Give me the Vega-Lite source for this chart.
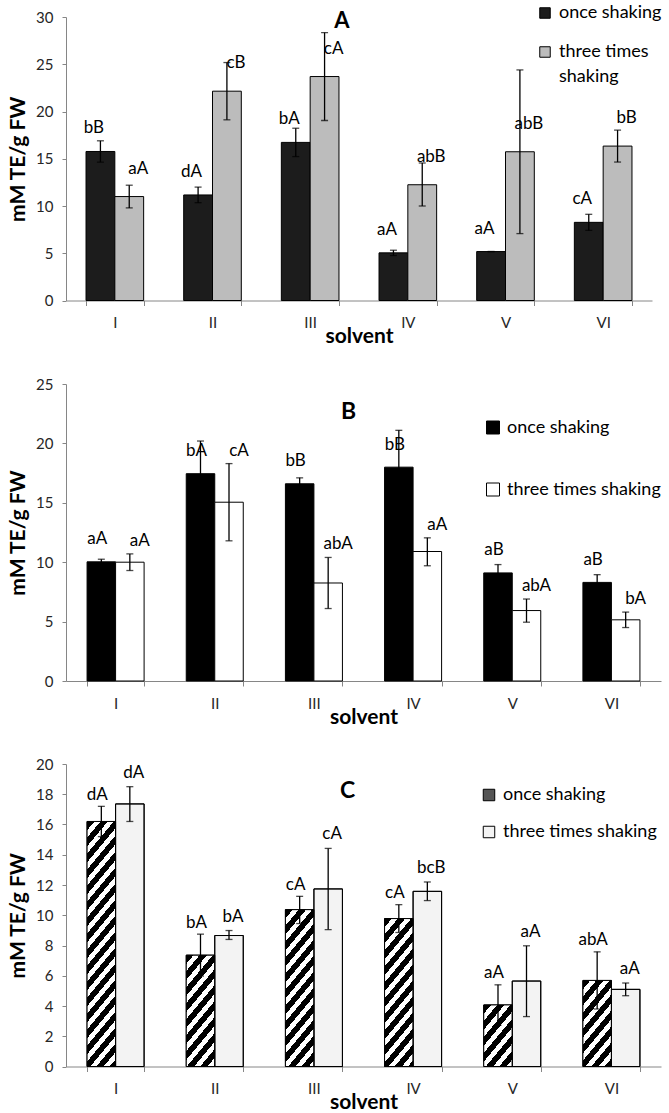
{
  "$schema": "https://vega.github.io/schema/vega-lite/v6.json",
  "autosize": {"type": "pad"},
  "padding": {"left": 7, "top": 4, "right": 0, "bottom": 0},
  "background": "#ffffff",
  "bounds": "flush",
  "spacing": 83,
  "datasets": {
    "bars": [
      {"panel": "A", "solvent": "I", "treatment": "once shaking", "value": 15.77, "lo": 14.64, "hi": 16.9, "label": "bB"},
      {"panel": "A", "solvent": "I", "treatment": "three times shaking", "value": 11.0, "lo": 9.8, "hi": 12.2, "label": "aA"},
      {"panel": "A", "solvent": "II", "treatment": "once shaking", "value": 11.17, "lo": 10.35, "hi": 12.0, "label": "dA"},
      {"panel": "A", "solvent": "II", "treatment": "three times shaking", "value": 22.15, "lo": 19.12, "hi": 25.18, "label": "cB"},
      {"panel": "A", "solvent": "III", "treatment": "once shaking", "value": 16.73, "lo": 15.23, "hi": 18.23, "label": "bA"},
      {"panel": "A", "solvent": "III", "treatment": "three times shaking", "value": 23.7, "lo": 19.05, "hi": 28.35, "label": "cA"},
      {"panel": "A", "solvent": "IV", "treatment": "once shaking", "value": 5.04, "lo": 4.76, "hi": 5.32, "label": "aA"},
      {"panel": "A", "solvent": "IV", "treatment": "three times shaking", "value": 12.25, "lo": 10.0, "hi": 14.55, "label": "abB"},
      {"panel": "A", "solvent": "V", "treatment": "once shaking", "value": 5.18, "lo": 5.18, "hi": 5.18, "label": "aA"},
      {"panel": "A", "solvent": "V", "treatment": "three times shaking", "value": 15.74, "lo": 7.08, "hi": 24.4, "label": "abB"},
      {"panel": "A", "solvent": "VI", "treatment": "once shaking", "value": 8.27, "lo": 7.42, "hi": 9.12, "label": "cA"},
      {"panel": "A", "solvent": "VI", "treatment": "three times shaking", "value": 16.34, "lo": 14.65, "hi": 18.03, "label": "bB"},
      {"panel": "B", "solvent": "I", "treatment": "once shaking", "value": 10.03, "lo": 9.8, "hi": 10.25, "label": "aA"},
      {"panel": "B", "solvent": "I", "treatment": "three times shaking", "value": 10.0, "lo": 9.3, "hi": 10.7, "label": "aA"},
      {"panel": "B", "solvent": "II", "treatment": "once shaking", "value": 17.45, "lo": 14.7, "hi": 20.2, "label": "bA"},
      {"panel": "B", "solvent": "II", "treatment": "three times shaking", "value": 15.05, "lo": 11.8, "hi": 18.3, "label": "cA"},
      {"panel": "B", "solvent": "III", "treatment": "once shaking", "value": 16.6, "lo": 16.1, "hi": 17.1, "label": "bB"},
      {"panel": "B", "solvent": "III", "treatment": "three times shaking", "value": 8.25, "lo": 6.1, "hi": 10.4, "label": "abA"},
      {"panel": "B", "solvent": "IV", "treatment": "once shaking", "value": 18.0, "lo": 14.85, "hi": 21.1, "label": "bB"},
      {"panel": "B", "solvent": "IV", "treatment": "three times shaking", "value": 10.9, "lo": 9.7, "hi": 12.05, "label": "aA"},
      {"panel": "B", "solvent": "V", "treatment": "once shaking", "value": 9.1, "lo": 8.4, "hi": 9.8, "label": "aB"},
      {"panel": "B", "solvent": "V", "treatment": "three times shaking", "value": 5.93, "lo": 4.95, "hi": 6.9, "label": "abA"},
      {"panel": "B", "solvent": "VI", "treatment": "once shaking", "value": 8.3, "lo": 7.65, "hi": 8.95, "label": "aB"},
      {"panel": "B", "solvent": "VI", "treatment": "three times shaking", "value": 5.15, "lo": 4.5, "hi": 5.8, "label": "bA"},
      {"panel": "C", "solvent": "I", "treatment": "once shaking", "value": 16.2, "lo": 15.2, "hi": 17.2, "label": "dA"},
      {"panel": "C", "solvent": "I", "treatment": "three times shaking", "value": 17.36, "lo": 16.2, "hi": 18.5, "label": "dA"},
      {"panel": "C", "solvent": "II", "treatment": "once shaking", "value": 7.36, "lo": 5.98, "hi": 8.75, "label": "bA"},
      {"panel": "C", "solvent": "II", "treatment": "three times shaking", "value": 8.66, "lo": 8.4, "hi": 8.99, "label": "bA"},
      {"panel": "C", "solvent": "III", "treatment": "once shaking", "value": 10.37, "lo": 9.45, "hi": 11.25, "label": "cA"},
      {"panel": "C", "solvent": "III", "treatment": "three times shaking", "value": 11.74, "lo": 9.05, "hi": 14.42, "label": "cA"},
      {"panel": "C", "solvent": "IV", "treatment": "once shaking", "value": 9.78, "lo": 8.86, "hi": 10.7, "label": "cA"},
      {"panel": "C", "solvent": "IV", "treatment": "three times shaking", "value": 11.58, "lo": 10.97, "hi": 12.2, "label": "bcB"},
      {"panel": "C", "solvent": "V", "treatment": "once shaking", "value": 4.07, "lo": 2.73, "hi": 5.4, "label": "aA"},
      {"panel": "C", "solvent": "V", "treatment": "three times shaking", "value": 5.65, "lo": 3.3, "hi": 7.98, "label": "aA"},
      {"panel": "C", "solvent": "VI", "treatment": "once shaking", "value": 5.69, "lo": 3.8, "hi": 7.58, "label": "abA"},
      {"panel": "C", "solvent": "VI", "treatment": "three times shaking", "value": 5.1, "lo": 4.68, "hi": 5.52, "label": "aA"}
    ]
  },
  "resolve": {"scale": {"x": "independent", "y": "independent", "fill": "independent", "xOffset": "independent"}, "legend": {"fill": "independent"}},
  "vconcat": [
    {
      "data": {"name": "bars"},
      "transform": [{"filter": "datum.panel == 'A'"}],
      "width": 586,
      "height": 283.5,
      "title": {"text": "A", "fontSize": 22, "font": "Lato", "fontWeight": "bold", "anchor": "middle", "frame": "group", "offset": 0, "dx": -17, "dy": 45.7, "baseline": "alphabetic", "color": "#000"},
      "encoding": {
        "x": {"field": "solvent", "type": "nominal", "sort": ["I", "II", "III", "IV", "V", "VI"], "scale": {"paddingInner": 0.41, "paddingOuter": 0.205}, "title": "solvent"},
        "xOffset": {"field": "treatment", "type": "nominal", "sort": ["once shaking", "three times shaking"]}
      },
      "layer": [
        {
          "mark": {"type": "bar", "stroke": "#000", "strokeWidth": 1},
          "encoding": {
            "y": {"field": "value", "type": "quantitative", "scale": {"domain": [0, 30], "nice": false}, "axis": {"values": [0, 5, 10, 15, 20, 25, 30], "labelOverlap": false}, "title": "mM TE/g FW"},
            "fill": {"field": "treatment", "type": "nominal", "scale": {"domain": ["once shaking", "three times shaking"], "range": ["#1c1c1c", "#bcbcbc"]}, "legend": {"legendX": 470, "legendY": -13, "rowPadding": 21, "symbolSize": 110, "labelExpr": "datum.label == 'three times shaking' ? ['three times', 'shaking'] : datum.label", "encode": {"labels": {"update": {"lineHeight": {"value": 25}}}}}}
          }
        },
        {"mark": {"type": "rule", "color": "#000", "strokeWidth": 1.3}, "encoding": {"y": {"field": "lo", "type": "quantitative", "axis": {"values": [0, 5, 10, 15, 20, 25, 30], "labelOverlap": false}, "title": "mM TE/g FW"}, "y2": {"field": "hi"}}},
        {"mark": {"type": "tick", "color": "#000", "thickness": 1.3, "size": 7}, "encoding": {"y": {"field": "hi", "type": "quantitative", "axis": {"values": [0, 5, 10, 15, 20, 25, 30], "labelOverlap": false}, "title": "mM TE/g FW"}}},
        {"mark": {"type": "tick", "color": "#000", "thickness": 1.3, "size": 7}, "encoding": {"y": {"field": "lo", "type": "quantitative", "axis": {"values": [0, 5, 10, 15, 20, 25, 30], "labelOverlap": false}, "title": "mM TE/g FW"}}},
        {"transform": [{"filter": "datum.treatment == 'once shaking'"}], "mark": {"type": "text", "dx": -6.5, "dy": -23, "baseline": "middle", "fontSize": 17, "font": "Lato", "color": "#000"}, "encoding": {"y": {"field": "value", "type": "quantitative", "axis": {"values": [0, 5, 10, 15, 20, 25, 30], "labelOverlap": false}, "title": "mM TE/g FW"}, "text": {"field": "label"}}},
        {"transform": [{"filter": "datum.treatment == 'three times shaking'"}], "mark": {"type": "text", "dx": 9, "dy": -28, "baseline": "middle", "fontSize": 17, "font": "Lato", "color": "#000"}, "encoding": {"y": {"field": "value", "type": "quantitative", "axis": {"values": [0, 5, 10, 15, 20, 25, 30], "labelOverlap": false}, "title": "mM TE/g FW"}, "text": {"field": "label"}}}
      ]
    },
    {
      "data": {"name": "bars"},
      "transform": [{"filter": "datum.panel == 'B'"}],
      "width": 595,
      "height": 297,
      "title": {"text": "B", "fontSize": 23, "font": "Lato", "fontWeight": "bold", "anchor": "middle", "frame": "group", "offset": 0, "dx": -15, "dy": 64.8, "baseline": "alphabetic", "color": "#000"},
      "encoding": {
        "x": {"field": "solvent", "type": "nominal", "sort": ["I", "II", "III", "IV", "V", "VI"], "scale": {"paddingInner": 0.425, "paddingOuter": 0.2125}, "title": "solvent"},
        "xOffset": {"field": "treatment", "type": "nominal", "sort": ["once shaking", "three times shaking"]}
      },
      "layer": [
        {
          "mark": {"type": "bar", "stroke": "#000", "strokeWidth": 1},
          "encoding": {
            "y": {"field": "value", "type": "quantitative", "scale": {"domain": [0, 25], "nice": false}, "axis": {"values": [0, 5, 10, 15, 20, 25], "labelOverlap": false}, "title": "mM TE/g FW"},
            "fill": {"field": "treatment", "type": "nominal", "scale": {"domain": ["once shaking", "three times shaking"], "range": ["#000000", "#ffffff"]}, "legend": {"legendX": 418, "legendY": 34.5, "rowPadding": 44, "symbolSize": 169}}
          }
        },
        {"mark": {"type": "rule", "color": "#000", "strokeWidth": 1.3}, "encoding": {"y": {"field": "lo", "type": "quantitative", "axis": {"values": [0, 5, 10, 15, 20, 25], "labelOverlap": false}, "title": "mM TE/g FW"}, "y2": {"field": "hi"}}},
        {"mark": {"type": "tick", "color": "#000", "thickness": 1.3, "size": 7}, "encoding": {"y": {"field": "hi", "type": "quantitative", "axis": {"values": [0, 5, 10, 15, 20, 25], "labelOverlap": false}, "title": "mM TE/g FW"}}},
        {"mark": {"type": "tick", "color": "#000", "thickness": 1.3, "size": 7}, "encoding": {"y": {"field": "lo", "type": "quantitative", "axis": {"values": [0, 5, 10, 15, 20, 25], "labelOverlap": false}, "title": "mM TE/g FW"}}},
        {"transform": [{"filter": "datum.treatment == 'once shaking'"}], "mark": {"type": "text", "dx": -4, "dy": -22.5, "baseline": "middle", "fontSize": 17, "font": "Lato", "color": "#000"}, "encoding": {"y": {"field": "value", "type": "quantitative", "axis": {"values": [0, 5, 10, 15, 20, 25], "labelOverlap": false}, "title": "mM TE/g FW"}, "text": {"field": "label"}}},
        {"transform": [{"filter": "datum.treatment == 'three times shaking'"}], "mark": {"type": "text", "dx": 10, "dy": -13, "baseline": "middle", "fontSize": 17, "font": "Lato", "color": "#000"}, "encoding": {"y": {"field": "hi", "type": "quantitative", "axis": {"values": [0, 5, 10, 15, 20, 25], "labelOverlap": false}, "title": "mM TE/g FW"}, "text": {"field": "label"}}}
      ]
    },
    {
      "data": {"name": "bars"},
      "transform": [{"filter": "datum.panel == 'C'"}],
      "width": 595,
      "height": 302.5,
      "title": {"text": "C", "fontSize": 23, "font": "Lato", "fontWeight": "bold", "anchor": "middle", "frame": "group", "offset": 0, "dx": -16, "dy": 63.7, "baseline": "alphabetic", "color": "#000"},
      "encoding": {
        "x": {"field": "solvent", "type": "nominal", "sort": ["I", "II", "III", "IV", "V", "VI"], "scale": {"paddingInner": 0.425, "paddingOuter": 0.2125}, "title": "solvent"},
        "xOffset": {"field": "treatment", "type": "nominal", "sort": ["once shaking", "three times shaking"]}
      },
      "layer": [
        {
          "mark": {"type": "bar", "stroke": "#000", "strokeWidth": 1},
          "encoding": {
            "y": {"field": "value", "type": "quantitative", "scale": {"domain": [0, 20], "nice": false}, "axis": {"values": [0, 2, 4, 6, 8, 10, 12, 14, 16, 18, 20], "labelOverlap": false}, "title": "mM TE/g FW"},
            "fill": {"field": "treatment", "type": "nominal", "scale": {"domain": ["once shaking", "three times shaking"], "range": ["#555555", "#f3f3f3"]}, "legend": {"legendX": 414, "legendY": 22, "rowPadding": 19, "symbolSize": 132, "encode": {"symbols": {"update": {"stroke": {"value": "#000"}, "strokeWidth": {"value": 1}, "fill": {"signal": "datum.value == 'once shaking' ? {gradient:'linear',x1:0,y1:0,x2:1,y2:1,stops:[{offset:0,color:'#000'},{offset:0.6,color:'#000'},{offset:0.6,color:'#fff'},{offset:1,color:'#fff'}]} : '#ffffff'"}}}}}}
          }
        },
        {
          "transform": [{"filter": "datum.treatment == 'once shaking'"}],
          "mark": {"type": "bar"},
          "encoding": {
            "y": {"field": "value", "type": "quantitative", "axis": {"values": [0, 2, 4, 6, 8, 10, 12, 14, 16, 18, 20], "labelOverlap": false}, "title": "mM TE/g FW"},
            "fill": {"value": {"expr": "{gradient:'linear',x1:0,y1:0,x2:10944/(1169.64+pow(datum.value*15.125,2)),y2:320*datum.value*15.125/(1169.64+pow(datum.value*15.125,2)),stops:[{offset:0,color:'#000'},{offset:0.0275,color:'#000'},{offset:0.0275,color:'#fff'},{offset:0.05,color:'#fff'},{offset:0.05,color:'#000'},{offset:0.0775,color:'#000'},{offset:0.0775,color:'#fff'},{offset:0.1,color:'#fff'},{offset:0.1,color:'#000'},{offset:0.1275,color:'#000'},{offset:0.1275,color:'#fff'},{offset:0.15,color:'#fff'},{offset:0.15,color:'#000'},{offset:0.1775,color:'#000'},{offset:0.1775,color:'#fff'},{offset:0.2,color:'#fff'},{offset:0.2,color:'#000'},{offset:0.2275,color:'#000'},{offset:0.2275,color:'#fff'},{offset:0.25,color:'#fff'},{offset:0.25,color:'#000'},{offset:0.2775,color:'#000'},{offset:0.2775,color:'#fff'},{offset:0.3,color:'#fff'},{offset:0.3,color:'#000'},{offset:0.3275,color:'#000'},{offset:0.3275,color:'#fff'},{offset:0.35,color:'#fff'},{offset:0.35,color:'#000'},{offset:0.3775,color:'#000'},{offset:0.3775,color:'#fff'},{offset:0.4,color:'#fff'},{offset:0.4,color:'#000'},{offset:0.4275,color:'#000'},{offset:0.4275,color:'#fff'},{offset:0.45,color:'#fff'},{offset:0.45,color:'#000'},{offset:0.4775,color:'#000'},{offset:0.4775,color:'#fff'},{offset:0.5,color:'#fff'},{offset:0.5,color:'#000'},{offset:0.5275,color:'#000'},{offset:0.5275,color:'#fff'},{offset:0.55,color:'#fff'},{offset:0.55,color:'#000'},{offset:0.5775,color:'#000'},{offset:0.5775,color:'#fff'},{offset:0.6,color:'#fff'},{offset:0.6,color:'#000'},{offset:0.6275,color:'#000'},{offset:0.6275,color:'#fff'},{offset:0.65,color:'#fff'},{offset:0.65,color:'#000'},{offset:0.6775,color:'#000'},{offset:0.6775,color:'#fff'},{offset:0.7,color:'#fff'},{offset:0.7,color:'#000'},{offset:0.7275,color:'#000'},{offset:0.7275,color:'#fff'},{offset:0.75,color:'#fff'},{offset:0.75,color:'#000'},{offset:0.7775,color:'#000'},{offset:0.7775,color:'#fff'},{offset:0.8,color:'#fff'},{offset:0.8,color:'#000'},{offset:0.8275,color:'#000'},{offset:0.8275,color:'#fff'},{offset:0.85,color:'#fff'},{offset:0.85,color:'#000'},{offset:0.8775,color:'#000'},{offset:0.8775,color:'#fff'},{offset:0.9,color:'#fff'},{offset:0.9,color:'#000'},{offset:0.9275,color:'#000'},{offset:0.9275,color:'#fff'},{offset:0.95,color:'#fff'},{offset:0.95,color:'#000'},{offset:0.9775,color:'#000'},{offset:0.9775,color:'#fff'},{offset:1,color:'#fff'}]}"}}
          }
        },
        {"mark": {"type": "bar", "fill": null, "fillOpacity": 0, "stroke": "#000", "strokeWidth": 1}, "encoding": {"y": {"field": "value", "type": "quantitative", "axis": {"values": [0, 2, 4, 6, 8, 10, 12, 14, 16, 18, 20], "labelOverlap": false}, "title": "mM TE/g FW"}}},
        {"mark": {"type": "rule", "color": "#000", "strokeWidth": 1.3}, "encoding": {"y": {"field": "lo", "type": "quantitative", "axis": {"values": [0, 2, 4, 6, 8, 10, 12, 14, 16, 18, 20], "labelOverlap": false}, "title": "mM TE/g FW"}, "y2": {"field": "hi"}}},
        {"mark": {"type": "tick", "color": "#000", "thickness": 1.3, "size": 7}, "encoding": {"y": {"field": "hi", "type": "quantitative", "axis": {"values": [0, 2, 4, 6, 8, 10, 12, 14, 16, 18, 20], "labelOverlap": false}, "title": "mM TE/g FW"}}},
        {"mark": {"type": "tick", "color": "#000", "thickness": 1.3, "size": 7}, "encoding": {"y": {"field": "lo", "type": "quantitative", "axis": {"values": [0, 2, 4, 6, 8, 10, 12, 14, 16, 18, 20], "labelOverlap": false}, "title": "mM TE/g FW"}}},
        {"transform": [{"filter": "datum.treatment == 'once shaking'"}], "mark": {"type": "text", "dx": -4, "dy": -11.5, "baseline": "middle", "fontSize": 17, "font": "Lato", "color": "#000"}, "encoding": {"y": {"field": "hi", "type": "quantitative", "axis": {"values": [0, 2, 4, 6, 8, 10, 12, 14, 16, 18, 20], "labelOverlap": false}, "title": "mM TE/g FW"}, "text": {"field": "label"}}},
        {"transform": [{"filter": "datum.treatment == 'three times shaking'"}], "mark": {"type": "text", "dx": 4, "dy": -14, "baseline": "middle", "fontSize": 17, "font": "Lato", "color": "#000"}, "encoding": {"y": {"field": "hi", "type": "quantitative", "axis": {"values": [0, 2, 4, 6, 8, 10, 12, 14, 16, 18, 20], "labelOverlap": false}, "title": "mM TE/g FW"}, "text": {"field": "label"}}}
      ]
    }
  ],
  "config": {
    "view": {"stroke": null},
    "font": "Lato",
    "axis": {"grid": false, "labelFont": "Lato", "titleFont": "Lato", "labelFontSize": 15, "labelColor": "#262626", "titleColor": "#000", "titleFontSize": 21, "titleFontWeight": "bold", "domainColor": "#868686", "tickColor": "#868686", "domainWidth": 1, "tickWidth": 1, "labelOverlap": false},
    "axisX": {"labelAngle": 0, "tickBand": "extent", "tickSize": 5, "labelPadding": 10, "titlePadding": -5},
    "axisY": {"tickSize": 4, "labelPadding": 9, "titlePadding": 7},
    "legend": {"orient": "none", "title": null, "symbolType": "square", "symbolStrokeColor": "#000", "symbolStrokeWidth": 1, "labelFontSize": 18, "labelFont": "Lato", "labelColor": "#000", "labelOffset": 5, "labelLimit": 400}
  }
}
